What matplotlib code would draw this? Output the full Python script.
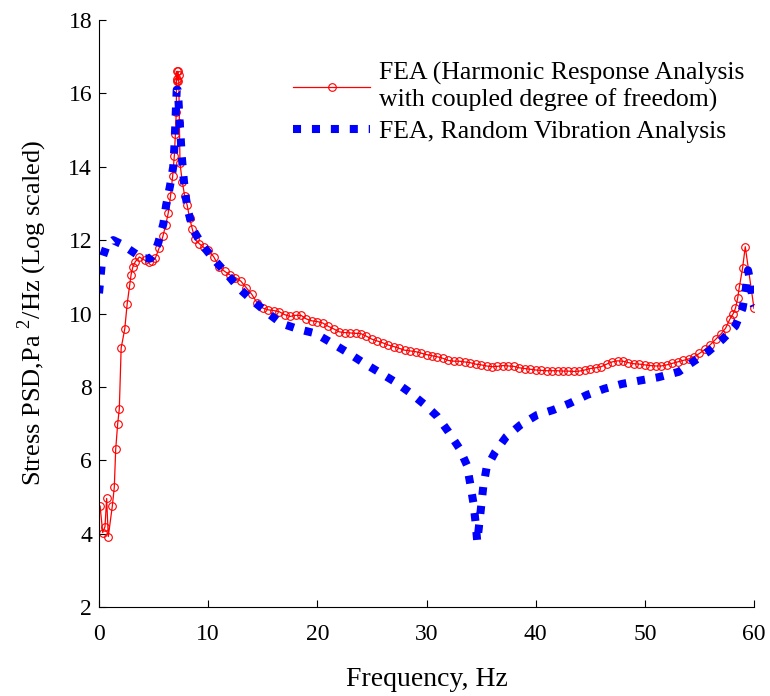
import matplotlib
matplotlib.use("Agg")
import matplotlib.pyplot as plt

plt.rcParams['font.family'] = ['Liberation Serif', 'DejaVu Serif']
plt.rcParams['mathtext.fontset'] = 'custom'
plt.rcParams['mathtext.rm'] = 'Liberation Serif'

# Harmonic response analysis (red, circles)
red_f = [0.1, 0.34, 0.55, 0.7, 0.85, 1.22, 1.4, 1.53, 1.71, 1.86, 2.03, 2.36, 2.58, 2.81,
         2.94, 3.1, 3.32, 3.7, 4.2, 4.55, 4.85, 5.15, 5.5, 5.85, 6.1, 6.35, 6.55, 6.75,
         6.9, 7.0, 7.08, 7.1, 7.14, 7.18, 7.22, 7.26, 7.3, 7.36, 7.42, 7.63, 7.85, 8.08,
         8.3, 8.55, 8.8, 9.2, 9.6,
         10.0, 10.5, 11.0, 11.5, 12.0, 12.5, 13.0, 13.5, 14.0, 14.5, 15.0, 15.5, 16.0,
         16.5, 17.0, 17.5, 18.0, 18.5, 19.0, 19.5, 20.0, 20.5, 21.0, 21.5, 22.0, 22.5,
         23.0, 23.5, 24.0, 24.5, 25.0, 25.5, 26.0, 26.5, 27.0, 27.5, 28.0, 28.5, 29.0,
         29.5, 30.0, 30.5, 31.0, 31.5, 32.0, 32.5, 33.0, 33.5, 34.0, 34.5, 35.0, 35.5,
         36.0, 36.5, 37.0, 37.5, 38.0, 38.5, 39.0, 39.5, 40.0, 40.5, 41.0, 41.5, 42.0,
         42.5, 43.0, 43.5, 44.0, 44.5, 45.0, 45.5, 46.0, 46.5, 47.0, 47.5, 48.0, 48.5,
         49.0, 49.5, 50.0, 50.5, 51.0, 51.5, 52.0, 52.5, 53.0, 53.5, 54.0, 54.5, 55.0,
         55.5, 56.0, 56.5, 57.0, 57.4, 57.8, 58.1, 58.3, 58.5, 58.65, 58.95, 59.2, 60.0]
red_v = [4.75, 4.03, 4.19, 4.96, 3.92, 4.75, 5.26, 6.3, 6.99, 7.4, 9.06, 9.58, 10.26, 10.77,
         11.06, 11.27, 11.41, 11.54, 11.45, 11.41, 11.42, 11.5, 11.78, 12.1, 12.4, 12.75, 13.2, 13.75,
         14.3, 14.9, 15.5, 16.35, 16.6, 16.4, 16.6, 16.35, 16.5, 15.2, 14.09, 13.59, 13.2, 12.95,
         12.6, 12.3, 12.02, 11.9, 11.8,
         11.72, 11.55, 11.28, 11.15, 11.05, 10.98, 10.88, 10.7, 10.52, 10.28, 10.15, 10.1, 10.08,
         10.05, 9.97, 9.92, 9.95, 9.95, 9.85, 9.8, 9.78, 9.74, 9.65, 9.58, 9.5, 9.48,
         9.47, 9.46, 9.45, 9.38, 9.3, 9.25, 9.2, 9.14, 9.1, 9.05, 9.0, 8.98, 8.96,
         8.92, 8.88, 8.85, 8.82, 8.78, 8.72, 8.7, 8.7, 8.68, 8.66, 8.62, 8.6, 8.57,
         8.55, 8.56, 8.58, 8.57, 8.56, 8.52, 8.5, 8.48, 8.46, 8.45, 8.44, 8.44, 8.44,
         8.43, 8.43, 8.42, 8.43, 8.46, 8.5, 8.52, 8.55, 8.62, 8.68, 8.71, 8.7, 8.66,
         8.63, 8.62, 8.6, 8.58, 8.57, 8.57, 8.6, 8.64, 8.68, 8.72, 8.76, 8.82, 8.91,
         9.02, 9.15, 9.3, 9.45, 9.6, 9.85, 10.0, 10.14, 10.41, 10.71, 11.23, 11.82, 10.14]

# Random vibration analysis (blue, dotted)
blue_f = [0.0, 0.3, 0.7, 1.3, 2.0, 3.0, 4.0, 4.7, 5.1, 5.45, 5.9, 6.15, 6.5, 6.8, 6.9,
          6.97, 7.05, 7.12, 7.2, 7.28, 7.36, 7.48, 7.57, 7.72, 7.88, 8.18, 8.64, 9.5,
          10.6, 11.8, 12.85, 14.0, 15.3, 16.7, 18.3, 19.8, 21.3, 22.8, 24.2, 25.6, 27.1,
          28.5, 29.9, 31.0, 32.0, 33.0, 33.7, 34.0, 34.3, 34.5, 34.65, 34.9, 35.2, 35.5,
          36.3, 37.3, 38.6, 40.1, 41.6, 43.1, 44.7, 46.3, 47.9, 49.5, 51.2, 53.1, 54.4,
          55.8, 57.1, 58.3, 58.95, 59.25, 59.45, 59.7, 59.9, 60.0]
blue_v = [10.55, 11.5, 11.85, 12.0, 11.9, 11.7, 11.5, 11.5, 11.65, 11.95, 12.45, 12.95, 13.47, 14.0, 14.5,
          15.0, 15.6, 16.1, 16.1, 15.8, 15.36, 14.81, 14.32, 13.8, 13.29, 12.77, 12.27, 11.85,
          11.45, 11.05, 10.68, 10.37, 10.05, 9.73, 9.57, 9.46, 9.2, 8.93, 8.66, 8.41, 8.14,
          7.84, 7.5, 7.19, 6.78, 6.33, 5.87, 5.37, 4.83, 4.29, 3.78, 4.45, 5.28, 5.79,
          6.23, 6.64, 6.96, 7.23, 7.37, 7.55, 7.78, 7.95, 8.08, 8.17, 8.26, 8.41, 8.68,
          8.96, 9.29, 9.66, 10.14, 10.66, 11.18, 10.82, 10.29, 10.2]

x_ticks = [0, 10, 20, 30, 40, 50, 60]
y_ticks = [2, 4, 6, 8, 10, 12, 14, 16, 18]

label_red = 'FEA (Harmonic Response Analysis\nwith coupled degree of freedom)'
label_blue = 'FEA, Random Vibration Analysis'

fig = plt.figure(figsize=(7.7, 6.96), dpi=100)
ax = fig.add_axes([99/770, 1 - 607/696, 655/770, 587/696])

ax.plot(red_f, red_v, color='#ff0000', lw=0.9, marker='o', markersize=5.5,
        markerfacecolor='none', markeredgecolor='#ff0000', markeredgewidth=0.8,
        label=label_red)
ax.plot(blue_f, blue_v, color='#0000ff', lw=5.8, linestyle=(0, (1, 1.35)),
        label=label_blue)

ax.set_xlim(0, 60)
ax.set_ylim(2, 18)
ax.set_xticks(x_ticks)
ax.set_yticks(y_ticks)
ax.spines['top'].set_visible(False)
ax.spines['right'].set_visible(False)
ax.tick_params(direction='in', length=5, width=0.8, labelsize=17)
ax.tick_params(axis='x', pad=12)
ax.tick_params(axis='y', pad=5)
ax.set_xlabel('Frequency, Hz', fontsize=20, labelpad=16)
ax.set_ylabel('Stress PSD,Pa $^{2}$/Hz (Log scaled)', fontsize=19, labelpad=14)

leg = ax.legend(loc='upper left', bbox_to_anchor=(293/770, 1 - 62/696),
                bbox_transform=fig.transFigure, frameon=False, fontsize=18.5,
                borderpad=0, borderaxespad=0, handlelength=3.0, handletextpad=0.35,
                labelspacing=0.3)

fig.savefig('out.png', dpi=100)
